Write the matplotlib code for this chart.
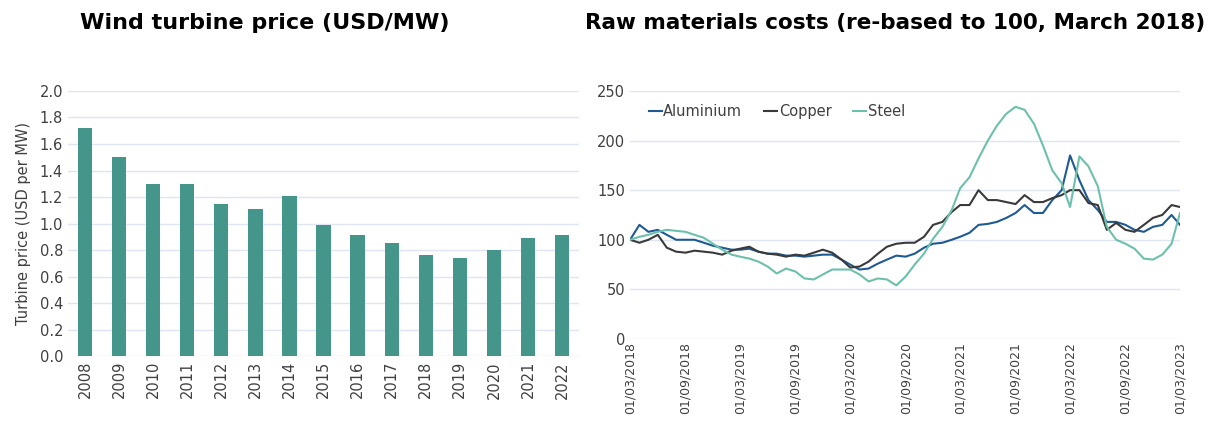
import matplotlib
matplotlib.use("Agg")
import matplotlib.pyplot as plt
import pandas as pd

# wind turbine price, USD/MW
years = [str(y) for y in range(2008, 2023)]
turbine_price = [1.72, 1.50, 1.30, 1.30, 1.15, 1.11, 1.21, 0.99, 0.91, 0.85,
                 0.76, 0.74, 0.80, 0.89, 0.91]

# raw materials, monthly, re-based to 100 (Mar 2018 .. Mar 2023)
months = pd.date_range("2018-03-01", "2023-03-01", freq="MS")
aluminium = [100, 115, 108, 110, 105, 100, 100, 100, 97, 94,
             92, 90, 90, 91, 88, 86, 86, 84, 84, 83,
             84, 85, 85, 80, 75, 70, 71, 76, 80, 84,
             83, 86, 92, 96, 97, 100, 103, 107, 115, 116,
             118, 122, 127, 135, 127, 127, 140, 150, 185, 160,
             140, 130, 118, 118, 115, 110, 108, 113, 115, 125,
             115]
copper = [100, 97, 100, 105, 92, 88, 87, 89, 88, 87,
          85, 89, 91, 93, 88, 86, 85, 83, 85, 84,
          87, 90, 87, 80, 72, 73, 78, 86, 93, 96,
          97, 97, 103, 115, 118, 128, 135, 135, 150, 140,
          140, 138, 136, 145, 138, 138, 142, 145, 150, 150,
          137, 135, 110, 117, 110, 108, 115, 122, 125, 135,
          133]
steel = [100, 103, 105, 108, 110, 109, 108, 105, 102, 96,
         90, 85, 83, 81, 78, 73, 66, 71, 68, 61,
         60, 65, 70, 70, 70, 65, 58, 61, 60, 54,
         63, 75, 86, 101, 113, 130, 152, 163, 182, 200,
         215, 227, 234, 231, 217, 195, 170, 157, 133, 184,
         174, 154, 113, 100, 96, 91, 81, 80, 85, 96,
         127]

bar_color = "#45968A"
grid_color = "#DFE5F2"
text_color = "#404040"

fig = plt.figure(figsize=(12.14, 4.25), dpi=100)
ax1 = fig.add_axes([0.056, 0.162, 0.421, 0.624])
ax2 = fig.add_axes([0.519, 0.2024, 0.453, 0.5836])

# left: bars
ax1.bar(range(len(years)), turbine_price, width=0.42, color=bar_color, zorder=3)
ax1.set_xlim(-0.5, len(years) - 0.5)
ax1.set_ylim(0, 2.0)
ax1.set_yticks([i / 10 for i in range(0, 21, 2)])
ax1.set_yticklabels([f"{i / 10:.1f}" for i in range(0, 21, 2)])
ax1.set_xticks(range(len(years)))
ax1.set_xticklabels(years, rotation=90)
ax1.set_ylabel("Turbine price (USD per MW)", fontsize=10.5, color=text_color,
               labelpad=6)
ax1.grid(axis="y", color=grid_color, linewidth=1, zorder=0)

# right: lines
ax2.plot(months, aluminium, color="#1F5A92", lw=1.5, label="Aluminium")
ax2.plot(months, copper, color="#3A3A3A", lw=1.5, label="Copper")
ax2.plot(months, steel, color="#6CC0AC", lw=1.5, label="Steel")
ax2.set_ylim(0, 250)
ax2.set_yticks(range(0, 251, 50))
ax2.set_xlim(months[0], months[-1])
ticks = pd.date_range("2018-03-01", "2023-03-01", freq="6MS")
ax2.set_xticks(ticks)
ax2.set_xticklabels([t.strftime("%d/%m/%Y") for t in ticks], rotation=90)
ax2.grid(axis="y", color=grid_color, linewidth=1, zorder=0)
ax2.legend(loc="upper left", bbox_to_anchor=(0.01, 1.0), ncol=3, frameon=False,
           fontsize=10.5, handlelength=0.9, handletextpad=0.1, columnspacing=1.5,
           labelcolor=text_color)

for ax in (ax1, ax2):
    for s in ax.spines.values():
        s.set_visible(False)
    ax.tick_params(length=0, labelsize=10.5, colors=text_color)
ax2.tick_params(axis="x", labelsize=9, pad=2)

fig.text(0.218, 0.945, "Wind turbine price (USD/MW)", fontsize=16,
         fontweight="bold", ha="center", va="center")
fig.text(0.737, 0.945, "Raw materials costs (re-based to 100, March 2018)",
         fontsize=15.5, fontweight="bold", ha="center", va="center")

fig.savefig("out.png", dpi=100)
